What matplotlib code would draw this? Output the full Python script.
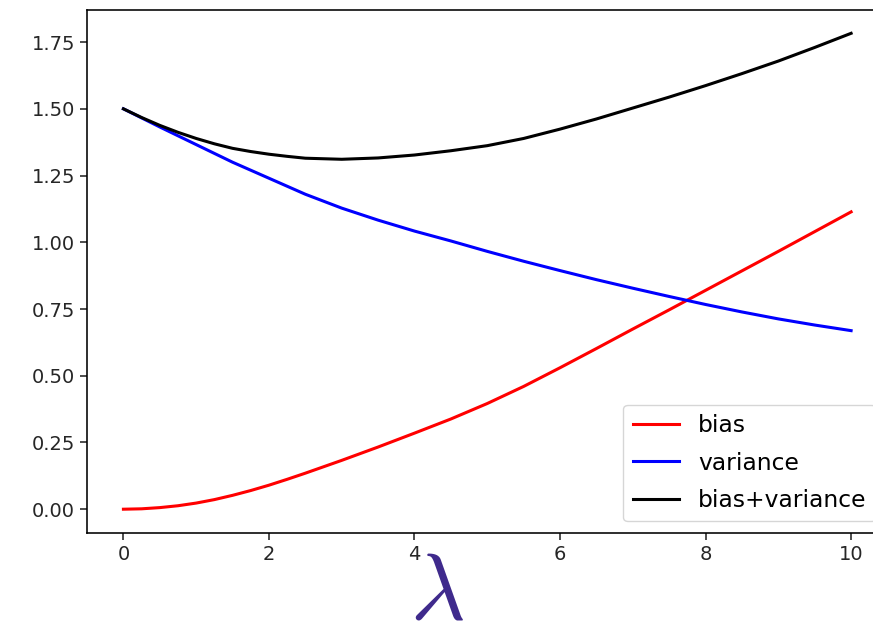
import matplotlib.pyplot as plt

plt.rcParams['mathtext.fontset'] = 'cm'

# values
lam = [0, 0.25, 0.5, 0.75, 1, 1.25, 1.5, 1.75, 2, 2.25, 2.5, 2.75, 3, 3.5, 4, 4.5, 5,
       5.5, 6, 6.5, 7, 7.5, 8, 8.5, 9, 9.5, 10]
bias = [0.000, 0.0015, 0.006, 0.013, 0.023, 0.036, 0.052, 0.070, 0.090, 0.112, 0.135,
        0.159, 0.183, 0.233, 0.285, 0.338, 0.396, 0.460, 0.530, 0.602, 0.675, 0.747,
        0.820, 0.893, 0.966, 1.040, 1.114]
variance = [1.500, 1.466, 1.432, 1.399, 1.366, 1.333, 1.300, 1.270, 1.240, 1.210, 1.180,
            1.154, 1.128, 1.083, 1.042, 1.005, 0.966, 0.929, 0.894, 0.860, 0.828, 0.797,
            0.767, 0.739, 0.713, 0.690, 0.669]
total = [1.500, 1.4675, 1.438, 1.412, 1.389, 1.369, 1.352, 1.340, 1.330, 1.322, 1.315,
         1.313, 1.311, 1.316, 1.327, 1.343, 1.362, 1.389, 1.424, 1.462, 1.503, 1.544,
         1.587, 1.632, 1.679, 1.730, 1.783]

fig = plt.figure(figsize=(8.73, 6.21), dpi=100)
ax = fig.add_axes([0.0997, 0.1417, 0.9169, 0.843])

ax.plot(lam, bias, color='red', lw=2.2, label='bias')
ax.plot(lam, variance, color='blue', lw=2.2, label='variance')
ax.plot(lam, total, color='black', lw=2.2, label='bias+variance')

ax.set_xticks([0, 2, 4, 6, 8, 10])
ax.set_yticks([0, 0.25, 0.5, 0.75, 1.0, 1.25, 1.5, 1.75])
ax.tick_params(labelsize=14, length=5, width=1.15, colors='#262626')
for s in ax.spines.values():
    s.set_linewidth(1.15)

ax.legend(loc='lower right', fontsize=16.8, labelspacing=0.62)

# hand-written lambda under the x axis
fig.text(437 / 873, 1 - 619 / 621, r'$\lambda$', fontsize=68, color='#3f2a8c',
         ha='center', va='baseline')

fig.savefig('out.png', dpi=100)
